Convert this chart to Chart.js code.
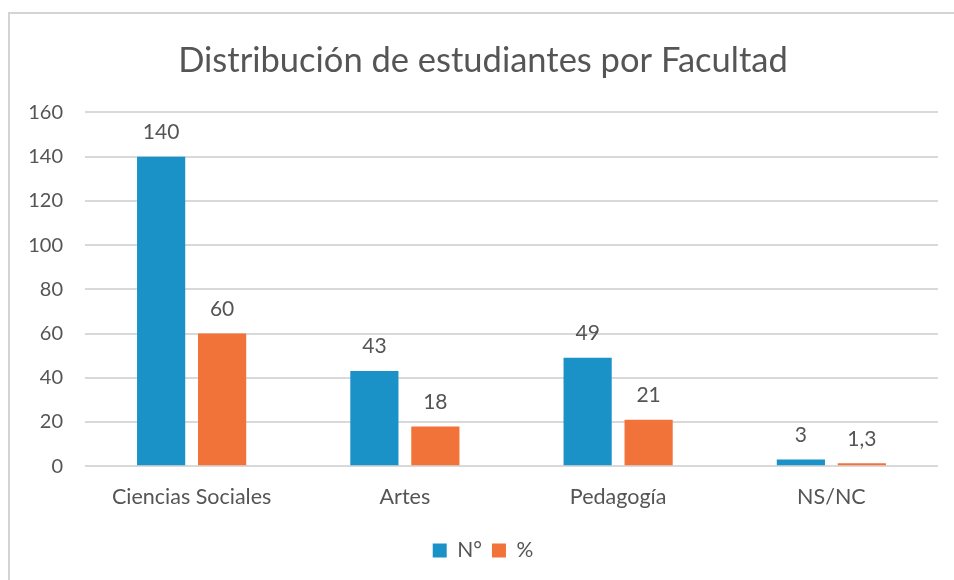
<!DOCTYPE html>
<html>
<head>
<meta charset="utf-8">
<script src="https://cdn.jsdelivr.net/npm/chart.js"></script>
<style>
  html, body { margin: 0; padding: 0; background: #fff; overflow: hidden; }
  #marco { position: absolute; left: 8px; top: 12px; width: 2000px; height: 2000px;
           border-left: 2px solid #d4d4d4; border-top: 2px solid #d4d4d4; }
  #wrap { position: absolute; left: 0; top: 0; width: 954px; height: 580px; }
</style>
</head>
<body>
<div id="marco"></div>
<div id="wrap"><canvas id="myChart" width="954" height="580"></canvas></div>
<script>
const facultades = ['Ciencias Sociales', 'Artes', 'Pedagogía', 'NS/NC'];
const numeroEstudiantes = [140, 43, 49, 3];
const porcentaje = [60, 18, 21, 1.3];
const tickLabels = [0, 20, 40, 60, 80, 100, 120, 140, 160];

const grigio = '#555555';

// etichette sopra le barre (1,3 con la virgola)
const etichette = {
  id: 'etichette',
  afterDatasetsDraw(chart) {
    const ctx = chart.ctx;
    ctx.save();
    ctx.font = '21px Lato';
    ctx.fillStyle = grigio;
    ctx.textAlign = 'center';
    ctx.textBaseline = 'bottom';
    chart.data.datasets.forEach((ds, i) => {
      chart.getDatasetMeta(i).data.forEach((bar, j) => {
        const testo = String(ds.data[j]).replace('.', ',');
        ctx.fillText(testo, bar.x, bar.y - 14);
      });
    });
    ctx.restore();
  }
};

const ctx = document.getElementById('myChart');

new Chart(ctx, {
  type: 'bar',
  data: {
    labels: facultades,
    datasets: [
      { label: 'N°', data: numeroEstudiantes, backgroundColor: '#1b92c7' },
      { label: '%', data: porcentaje, backgroundColor: '#f1733a' }
    ]
  },
  options: {
    responsive: false,
    animation: false,
    categoryPercentage: 0.572,
    barPercentage: 0.79,
    layout: { padding: { left: 28, right: 16, top: 0, bottom: 9 } },
    plugins: {
      title: {
        display: true,
        text: 'Distribución de estudiantes por Facultad',
        color: grigio,
        font: { family: 'Lato', size: 34.5, weight: 'normal' },
        padding: { top: 40, bottom: 31 }
      },
      legend: {
        position: 'bottom',
        labels: {
          color: grigio,
          font: { family: 'Lato', size: 21 },
          boxWidth: 14,
          boxHeight: 14,
          padding: 10
        }
      },
      tooltip: { enabled: false }
    },
    scales: {
      x: {
        grid: { display: false },
        border: { display: false },
        ticks: { color: grigio, font: { family: 'Lato', size: 21.5 }, padding: 10 },
        afterFit(scale) {
          scale.paddingLeft = 0;
          scale.paddingRight = 0;
          scale.height += 10;
        }
      },
      y: {
        min: 0,
        max: 160,
        afterBuildTicks(scale) {
          scale.ticks = tickLabels.map(v => ({ value: v }));
        },
        afterFit(scale) {
          scale.width = 57;
        },
        grid: { color: '#d9d9d9', lineWidth: 2, drawTicks: false },
        border: { display: false },
        ticks: { color: grigio, font: { family: 'Lato', size: 20 }, padding: 22 }
      }
    }
  },
  plugins: [etichette]
});
</script>
</body>
</html>
